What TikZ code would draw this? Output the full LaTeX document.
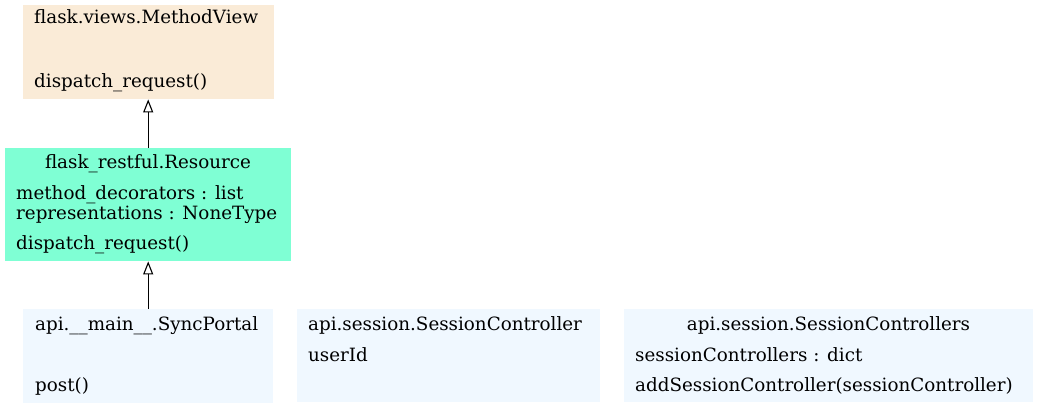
\documentclass[tikz,border=0pt]{standalone}
\usepackage{fontspec}
\setmainfont{DejaVu Serif}
\usepackage{tikz}
\usepackage{xcolor}
\usetikzlibrary{arrows.meta}

\definecolor{antiquewhite}{HTML}{FAEBD7}
\definecolor{aquamarine}{HTML}{7FFFD4}
\definecolor{aliceblue}{HTML}{F0F8FF}

\begin{document}
\begin{tikzpicture}[x=1pt,y=-1pt,
        classbox/.style={rectangle,draw=none,inner sep=0pt,anchor=north west},
        member/.style={anchor=base west,inner sep=0pt,font=\fontsize{18.3}{21}\selectfont},
        title/.style={anchor=base,inner sep=0pt,font=\fontsize{18.3}{21}\selectfont},
        inherit/.style={-{Triangle[open,length=13pt,width=10pt]},line width=1.1pt}]
        \useasboundingbox (0,0) rectangle (1038,409);

        % Top: MethodView
        \node[classbox,fill=antiquewhite,minimum width=251,minimum height=94] (methodview) at (23,5) {};
        \node[member] (mvname) at (34,24) {flask.views.MethodView};
        \node[member] (mvdispatch) at (34,88) {dispatch\_request()};

        % Middle: Resource
        \node[classbox,fill=aquamarine,minimum width=286,minimum height=113] (resource) at (5,148) {};
        \node[title] (resname) at (148,168) {flask\_restful.Resource};
        \node[member] (resdecorators) at (16,199) {method\_decorators : list};
        \node[member] (resrepr) at (16,219) {representations : NoneType};
        \node[member] (resdispatch) at (16,249) {dispatch\_request()};

        % Bottom row
        \node[classbox,fill=aliceblue,minimum width=250,minimum height=94] (syncportal) at (23,309) {};
        \node[member] (spname) at (35,330) {api.\_\_main\_\_.SyncPortal};
        \node[member] (sppost) at (35,391) {post()};

        \node[classbox,fill=aliceblue,minimum width=303,minimum height=93] (sessctrl) at (297,309) {};
        \node[member] (scname) at (308,330) {api.session.SessionController};
        \node[member] (scuser) at (308,361) {userId};

        \node[classbox,fill=aliceblue,minimum width=409,minimum height=93] (sessctrls) at (624,309) {};
        \node[title] (scsname) at (828.5,330) {api.session.SessionControllers};
        \node[member] (scsdict) at (635,361) {sessionControllers : dict};
        \node[member] (scsadd) at (635,391) {addSessionController(sessionController)};

        % Inheritance
        \draw[inherit] (resource.north) -- (resource.north |- methodview.south);
        \draw[inherit] (syncportal.north) -- (syncportal.north |- resource.south);
    \end{tikzpicture}
\end{document}
